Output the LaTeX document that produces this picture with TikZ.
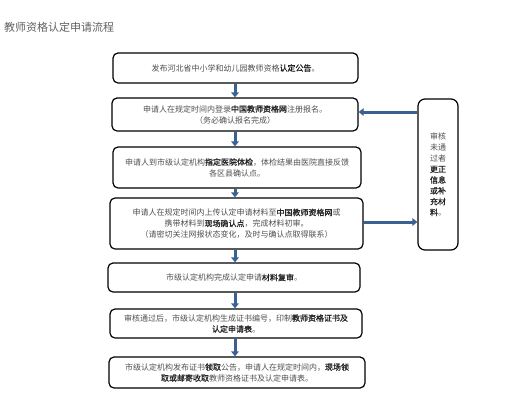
\documentclass[tikz,border=0pt]{standalone}
\usepackage{fontspec}
\setmainfont{Noto Sans CJK SC}
\newfontfamily\semibold[FakeBold=1.2]{Noto Sans CJK SC}
\usetikzlibrary{arrows.meta}
\definecolor{arrblue}{HTML}{3B6193}
\definecolor{txtgray}{HTML}{505050}
\definecolor{titlegray}{HTML}{606060}
\newcommand{\bb}[1]{{\semibold\color{black!85}#1}}
\tikzset{
  box/.style={draw=black, line width=1.2bp, rounded corners=5bp, fill=white,
    inner sep=0pt, align=center, text=txtgray,
    font=\fontsize{8bp}{11bp}\selectfont},
  arr/.style={draw=arrblue, line width=3bp, -{Triangle[width=7.5bp,length=5bp]}}
}
\begin{document}
\begin{tikzpicture}[x=1bp,y=-1bp]
\useasboundingbox (0,0) rectangle (512,400);
\node[anchor=west, text=titlegray, font=\fontsize{11bp}{13bp}\selectfont, inner sep=0pt] (title) at (4,27) {教师资格认定申请流程};

\node[box, minimum width=245bp, minimum height=30bp] (b1) at (235.5,68) {发布河北省中小学和幼儿园教师资格\bb{认定公告}。};
\node[box, minimum width=246bp, minimum height=33bp] (b2) at (235,114.5) {申请人在规定时间内登录\bb{中国教师资格网}注册报名。\\（务必确认报名完成）};
\node[box, minimum width=248bp, minimum height=41bp] (b3) at (237,167.5) {申请人到市级认定机构\bb{指定医院体检}，体检结果由医院直接反馈\\各区县确认点。};
\node[box, minimum width=253bp, minimum height=51bp] (b4) at (236.5,223.5) {申请人在规定时间内上传认定申请材料至\bb{中国教师资格网}或\\携带材料到\bb{现场确认点}，完成材料初审。\\（请密切关注网报状态变化，及时与确认点取得联系）};
\node[box, minimum width=252bp, minimum height=29bp] (b5) at (234,277.5) {市级认定机构完成认定申请\bb{材料复审}。};
\node[box, minimum width=252bp, minimum height=29bp] (b6) at (236,323.5) {审核通过后，市级认定机构生成证书编号，印制\bb{教师资格证书及}\\\bb{认定申请表}。};
\node[box, minimum width=256bp, minimum height=31bp] (b7) at (237,372.5) {市级认定机构发布证书\bb{领取}公告，申请人在规定时间内，\bb{现场领}\\\bb{取或邮寄收取}教师资格证书及认定申请表。};
\node[box, minimum width=40bp, minimum height=151bp, rounded corners=7bp, font=\fontsize{8bp}{10.8bp}\selectfont] (side) at (438,174.5) {审核\\未通\\过者\\\bb{更正}\\\bb{信息}\\\bb{或补}\\\bb{充材}\\\bb{料}。};

\draw[arr] ([xshift=-0.5bp]b1.south) -- ([xshift=-0.5bp]b1.south |- b2.north);
\draw[arr] (b2.south) -- (b2.south |- b3.north);
\draw[arr] ([xshift=-2bp]b3.south) -- ([xshift=-2bp]b3.south |- b4.north);
\draw[arr] ([xshift=-1.5bp]b4.south) -- ([xshift=-1.5bp]b4.south |- b5.north);
\draw[arr] ([xshift=1bp]b5.south) -- ([xshift=1bp]b5.south |- b6.north);
\draw[arr] ([xshift=-1bp]b6.south) -- ([xshift=-1bp]b6.south |- b7.north);
\draw[arr] ([yshift=2.5bp]side.west |- b2.east) -- ([yshift=2.5bp]b2.east);
\draw[arr] ([yshift=1.5bp]b4.east) -- ([yshift=1.5bp]b4.east -| side.west);
\end{tikzpicture}
\end{document}
